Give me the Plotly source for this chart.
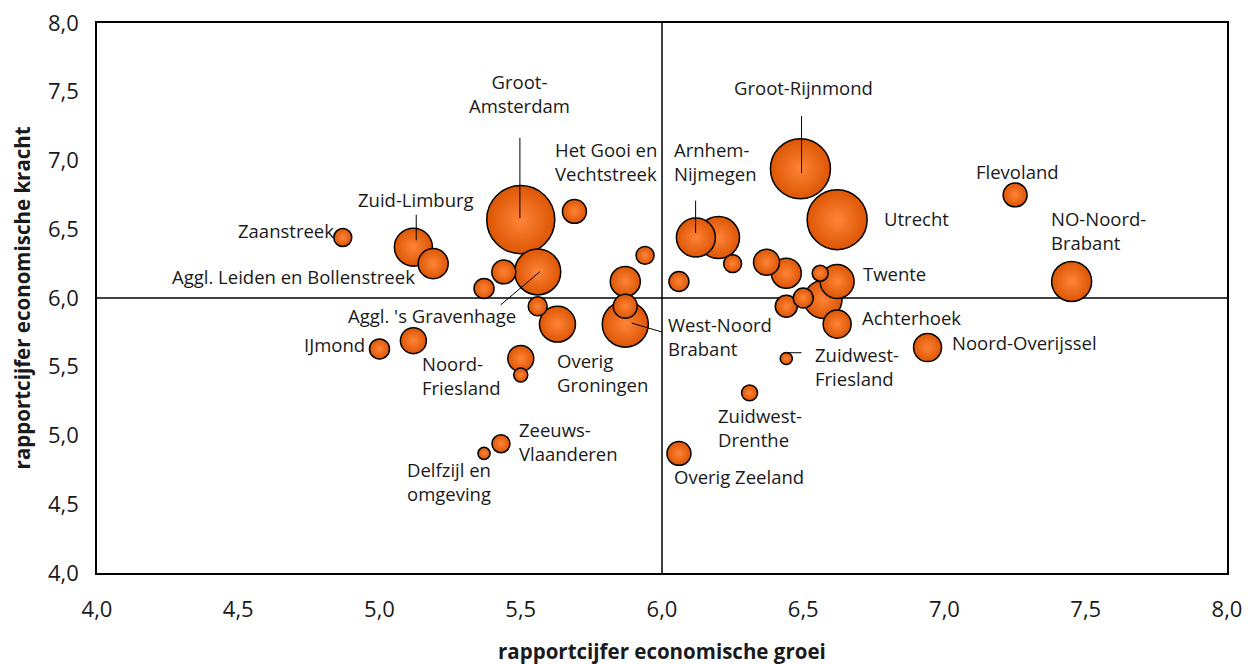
import plotly.graph_objects as go

# ---------------- data ----------------
regions = [
    "Zaanstreek", "Zuid-Limburg", "Aggl. Leiden en Bollenstreek", "Groot-Amsterdam",
    "Het Gooi en Vechtstreek", "", "", "Aggl. 's Gravenhage", "", "Overig Groningen",
    "", "", "", "West-Noord-Brabant", "Noord-Friesland", "", "", "IJmond",
    "Zeeuws-Vlaanderen", "Delfzijl en omgeving", "Overig Zeeland", "Zuidwest-Drenthe",
    "Zuidwest-Friesland", "Arnhem-Nijmegen", "", "", "", "", "", "", "Twente", "", "", "",
    "Achterhoek", "Utrecht", "Groot-Rijnmond", "Flevoland", "NO-Noord-Brabant",
    "Noord-Overijssel",
]
groei = [
    4.87, 5.12, 5.19, 5.50, 5.69, 5.44, 5.37, 5.56, 5.56, 5.63,
    5.94, 5.87, 5.87, 5.87, 5.12, 5.50, 5.50, 5.00, 5.43, 5.37,
    6.06, 6.31, 6.44, 6.12, 6.20, 6.25, 6.06, 6.37, 6.44, 6.56,
    6.62, 6.57, 6.50, 6.44, 6.62, 6.62, 6.49, 7.25, 7.45, 6.94,
]
kracht = [
    6.44, 6.37, 6.25, 6.57, 6.63, 6.19, 6.07, 6.19, 5.94, 5.81,
    6.31, 6.12, 5.94, 5.81, 5.69, 5.56, 5.44, 5.63, 4.94, 4.87,
    4.87, 5.31, 5.56, 6.44, 6.44, 6.25, 6.12, 6.26, 6.18, 6.18,
    6.12, 5.99, 6.00, 5.94, 5.81, 6.57, 6.94, 6.75, 6.12, 5.64,
]
omvang = [
    89, 397, 248, 1272, 158, 158, 110, 582, 99, 356,
    89, 248, 158, 582, 186, 186, 54, 110, 89, 40,
    158, 70, 40, 418, 485, 89, 110, 186, 248, 70,
    318, 397, 110, 133, 216, 990, 990, 158, 440, 216,
]

x_ticks = [4.0, 4.5, 5.0, 5.5, 6.0, 6.5, 7.0, 7.5, 8.0]
y_ticks = [4.0, 4.5, 5.0, 5.5, 6.0, 6.5, 7.0, 7.5, 8.0]
x_mid = 6.0
y_mid = 6.0

# label placement (text, x, y, xanchor)
labels = [
    ("Groot-<br>Amsterdam", 5.497, 7.49, "center"),
    ("Het Gooi en<br>Vechtstreek", 5.613, 6.99, "left"),
    ("Arnhem-<br>Nijmegen", 6.035, 6.99, "left"),
    ("Groot-Rijnmond", 6.50, 7.53, "center"),
    ("Flevoland", 7.257, 6.92, "center"),
    ("Utrecht", 6.78, 6.58, "left"),
    ("NO-Noord-<br>Brabant", 7.37, 6.49, "left"),
    ("Twente", 6.705, 6.18, "left"),
    ("Achterhoek", 6.70, 5.855, "left"),
    ("Noord-Overijssel", 7.02, 5.68, "left"),
    ("Zuidwest-<br>Friesland", 6.535, 5.50, "left"),
    ("Zuidwest-<br>Drenthe", 6.19, 5.06, "left"),
    ("Overig Zeeland", 6.037, 4.70, "left"),
    ("West-Noord<br>Brabant", 6.013, 5.72, "left"),
    ("Overig<br>Groningen", 5.62, 5.46, "left"),
    ("Noord-<br>Friesland", 5.143, 5.435, "left"),
    ("Zeeuws-<br>Vlaanderen", 5.487, 4.955, "left"),
    ("Delfzijl en<br>omgeving", 5.09, 4.665, "left"),
    ("IJmond", 4.955, 5.66, "right"),
    ("Zaanstreek", 4.846, 6.49, "right"),
    ("Zuid-Limburg", 5.13, 6.72, "center"),
    ("Aggl. Leiden en Bollenstreek", 5.133, 6.16, "right"),
    ("Aggl. 's Gravenhage", 5.49, 5.875, "right"),
]

# leader lines: (x0, y0, x1, y1)
leaders = [
    (5.497, 6.58, 5.497, 7.165),
    (5.13, 6.42, 5.13, 6.605),
    (5.567, 6.19, 5.429, 5.95),
    (5.893, 5.818, 5.999, 5.753),
    (6.119, 6.473, 6.119, 6.708),
    (6.494, 6.909, 6.494, 7.324),
    (6.441, 5.602, 6.494, 5.602),
]

# ---------------- figure ----------------
order = sorted(range(len(groei)), key=lambda i: -omvang[i])

fig = go.Figure()

lx, ly = [], []
for x0, y0, x1, y1 in leaders:
    lx += [x0, x1, None]
    ly += [y0, y1, None]

fig.add_trace(go.Scatter(
    x=[groei[i] for i in order],
    y=[kracht[i] for i in order],
    text=[regions[i] for i in order],
    mode="markers",
    hoverinfo="text+x+y",
    marker=dict(
        size=[omvang[i] for i in order],
        sizemode="area",
        sizeref=0.55,
        color="#DC5604",
        gradient=dict(type="radial", color="#FF8438"),
        line=dict(color="#000000", width=1.5),
        opacity=1,
    ),
    showlegend=False,
))

fig.add_trace(go.Scatter(
    x=lx, y=ly, mode="lines",
    line=dict(color="#000000", width=1),
    hoverinfo="skip", showlegend=False,
))

for text, x, y, xa in labels:
    fig.add_annotation(
        x=x, y=y, text=text, showarrow=False, xanchor=xa, yanchor="middle",
        align="left" if xa == "left" else ("right" if xa == "right" else "center"),
        font=dict(family="Open Sans", size=18.5, color="#1a1a1a"),
    )

fig.add_shape(type="line", xref="x", yref="paper", x0=x_mid, x1=x_mid, y0=0, y1=1,
              line=dict(color="#000000", width=1.5), layer="below")
fig.add_shape(type="line", xref="paper", yref="y", x0=0, x1=1, y0=y_mid, y1=y_mid,
              line=dict(color="#000000", width=1.5), layer="below")

fig.add_annotation(
    xref="paper", yref="paper", x=-0.066, y=0.5, text="<b>rapportcijfer economische kracht</b>",
    textangle=-90, showarrow=False, xanchor="center", yanchor="middle",
    font=dict(family="Open Sans", size=20.5, color="#1a1a1a"),
)
fig.add_annotation(
    xref="paper", yref="paper", x=0.5, y=-0.142, text="<b>rapportcijfer economische groei</b>",
    showarrow=False, xanchor="center", yanchor="middle",
    font=dict(family="Open Sans", size=20.5, color="#1a1a1a"),
)

axis_common = dict(
    showgrid=False, zeroline=False, showline=True, linecolor="#000000", linewidth=1.5,
    mirror=True, ticks="", tickformat=".1f",
    tickfont=dict(family="Open Sans", size=22, color="#1a1a1a"),
)
fig.update_xaxes(range=[4, 8], tickvals=x_ticks, ticklabelstandoff=16, **axis_common)
fig.update_yaxes(range=[4, 8], tickvals=y_ticks, ticklabelstandoff=12, **axis_common)

fig.update_layout(
    width=1252, height=664,
    margin=dict(l=97, r=25, t=23, b=91, autoexpand=False),
    paper_bgcolor="#ffffff", plot_bgcolor="#ffffff",
    separators=", ",
    font=dict(family="Open Sans"),
)

fig.write_html(
    "out.html",
    config={"displayModeBar": False},
    post_script="document.body.style.margin='0';document.body.style.padding='0';",
)
